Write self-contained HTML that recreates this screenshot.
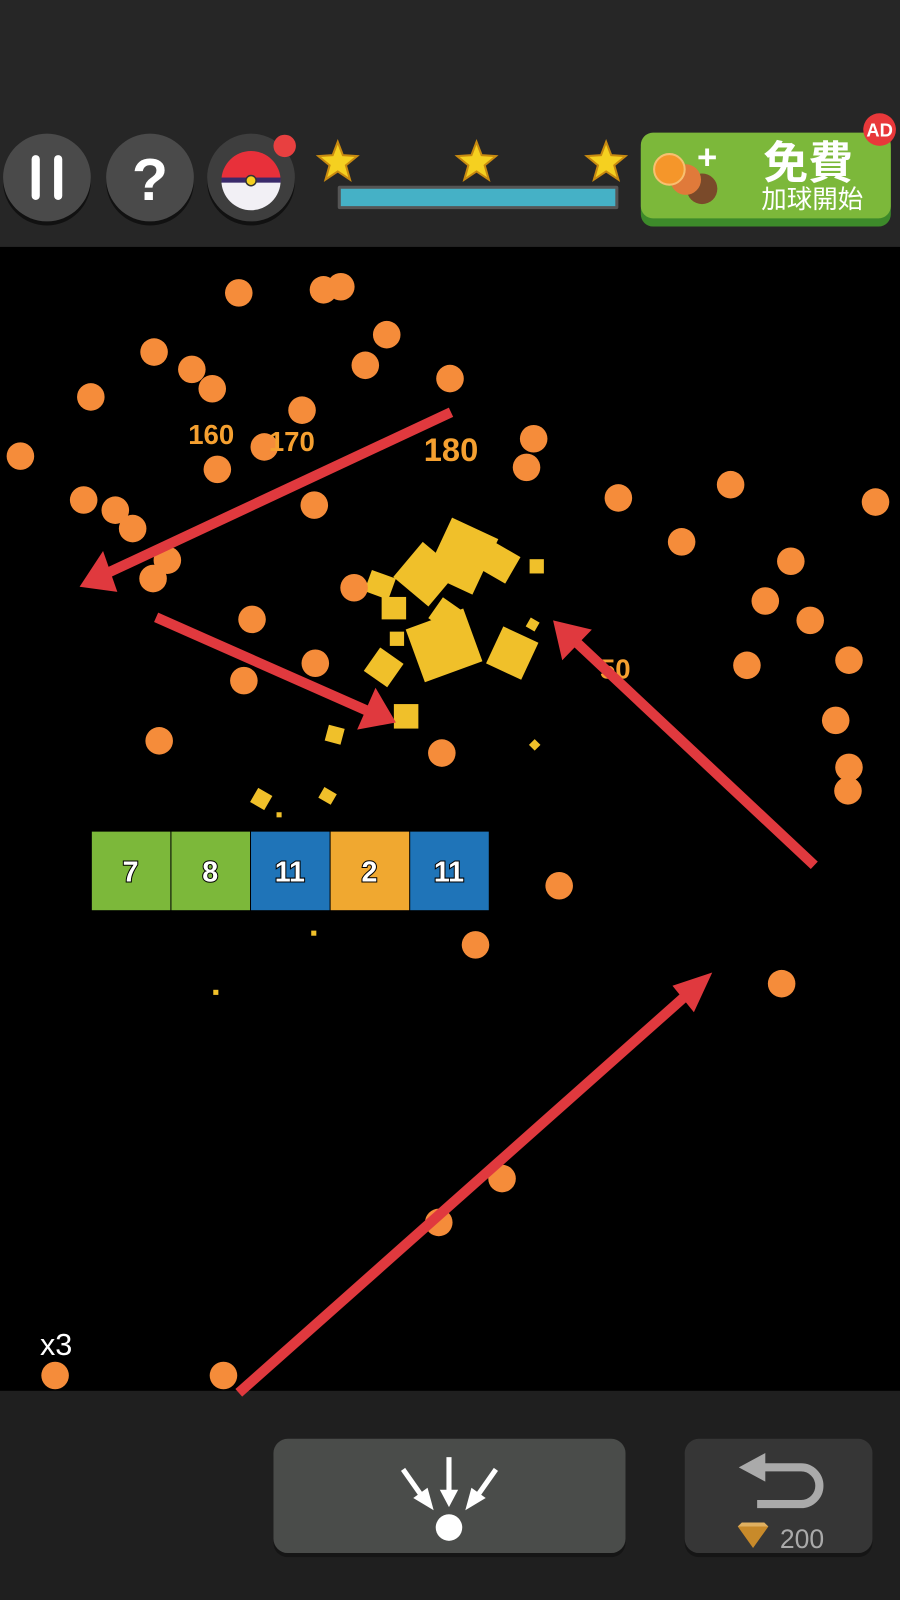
<!DOCTYPE html>
<html><head><meta charset="utf-8"><style>html,body{margin:0;padding:0;background:#000}svg{display:block}</style></head><body>
<svg width="900" height="1600" viewBox="0 0 882 1568" xmlns="http://www.w3.org/2000/svg" font-family="Liberation Sans, Noto Sans CJK TC, sans-serif">
<rect width="882" height="242" fill="#262626"/>
<rect y="242" width="882" height="1121" fill="#000"/>
<rect y="1363" width="882" height="205" fill="#1f1f1f"/>
<!-- top buttons -->
<circle cx="46" cy="178" r="43" fill="#111"/><circle cx="46" cy="174" r="43" fill="#4a4a4a"/>
<rect x="31" y="152" width="8" height="44" rx="4" fill="#fff"/><rect x="53" y="152" width="8" height="44" rx="4" fill="#fff"/>
<circle cx="147" cy="178" r="43" fill="#111"/><circle cx="147" cy="174" r="43" fill="#4a4a4a"/>
<text x="147" y="196" font-size="58" font-weight="bold" fill="#fff" text-anchor="middle">?</text>
<circle cx="246" cy="178" r="43" fill="#111"/><circle cx="246" cy="174" r="43" fill="#3e3e3e"/>
<path d="M217 177 A29 29 0 0 1 275 177 Z" fill="#e8303a"/>
<path d="M217 177 A29 29 0 0 0 275 177 Z" fill="#f2f0f5"/>
<rect x="217" y="174" width="58" height="5" fill="#3a2a6a"/><circle cx="246" cy="177" r="5" fill="#f5d020" stroke="#333" stroke-width="1.5"/>
<circle cx="279" cy="143" r="11" fill="#e84040"/>
<g fill="#f5d020" stroke="#c88a10" stroke-width="2">
<polygon points="331,139 336,152 350,153 339,162 343,176 331,168 319,176 323,162 312,153 326,152"/>
<polygon points="467,139 472,152 486,153 475,162 479,176 467,168 455,176 459,162 448,153 462,152"/>
<polygon points="594,139 599,152 613,153 602,162 606,176 594,168 582,176 586,162 575,153 589,152"/>
</g>
<rect x="331" y="182" width="275" height="23" rx="2" fill="#555"/><rect x="334" y="185" width="269" height="17" fill="#45b1c6"/>
<rect x="628" y="134" width="245" height="88" rx="12" fill="#3d8a2a"/><rect x="628" y="130" width="245" height="84" rx="12" fill="#7cb83a"/>
<circle cx="688" cy="185" r="15" fill="#7a4a2a"/><circle cx="672" cy="176" r="15" fill="#e07a3a"/><circle cx="656" cy="166" r="15" fill="#f5962a" stroke="#f8c070" stroke-width="2"/>
<text x="693" y="165" font-size="34" fill="#fff" text-anchor="middle" font-weight="bold">+</text>
<text x="792" y="175" font-size="44" fill="#fff" font-weight="bold" text-anchor="middle">免費</text>
<text x="796" y="204" font-size="25" fill="#fff" text-anchor="middle">加球開始</text>
<circle cx="862" cy="127" r="16" fill="#e8383a"/><text x="862" y="134" font-size="18" font-weight="bold" fill="#fff" text-anchor="middle">AD</text>
<!-- yellow debris -->
<g fill="#f0c02a">
<rect x="395" y="540" width="45" height="45" transform="rotate(40 417 562)"/>
<rect x="428" y="515" width="50" height="60" transform="rotate(25 453 545)"/>
<rect x="470" y="535" width="35" height="30" transform="rotate(30 487 550)"/>
<rect x="360" y="562" width="25" height="22" transform="rotate(20 372 573)"/>
<rect x="374" y="585" width="24" height="22"/>
<rect x="405" y="605" width="60" height="55" transform="rotate(-20 435 632)"/>
<rect x="425" y="590" width="25" height="25" transform="rotate(35 437 602)"/>
<rect x="483" y="620" width="38" height="40" transform="rotate(25 502 640)"/>
<rect x="362" y="640" width="28" height="28" transform="rotate(35 376 654)"/>
<rect x="386" y="690" width="24" height="24"/>
<rect x="519" y="548" width="14" height="14"/>
<rect x="320" y="712" width="16" height="16" transform="rotate(15 328 720)"/>
<rect x="248" y="775" width="16" height="16" transform="rotate(30 256 783)"/>
<rect x="314" y="774" width="14" height="12" transform="rotate(30 321 780)"/>
<rect x="382" y="619" width="14" height="14"/>
<rect x="517" y="607" width="10" height="10" transform="rotate(30 522 612)"/>
<rect x="520" y="726" width="8" height="8" transform="rotate(45 524 730)"/>
<rect x="266" y="877" width="8" height="8"/><rect x="305" y="912" width="5" height="5"/><rect x="209" y="970" width="5" height="5"/><rect x="448" y="820" width="6" height="6"/><rect x="271" y="796" width="5" height="5"/>
</g>
<!-- balls -->
<g fill="#f58c3a">
<circle cx="234" cy="287" r="13.5"/><circle cx="317" cy="284" r="13.5"/><circle cx="334" cy="281" r="13.5"/><circle cx="379" cy="328" r="13.5"/><circle cx="151" cy="345" r="13.5"/><circle cx="188" cy="362" r="13.5"/><circle cx="208" cy="381" r="13.5"/><circle cx="358" cy="358" r="13.5"/><circle cx="441" cy="371" r="13.5"/><circle cx="89" cy="389" r="13.5"/><circle cx="296" cy="402" r="13.5"/><circle cx="20" cy="447" r="13.5"/><circle cx="259" cy="438" r="13.5"/><circle cx="213" cy="460" r="13.5"/><circle cx="523" cy="430" r="13.5"/><circle cx="516" cy="458" r="13.5"/><circle cx="82" cy="490" r="13.5"/><circle cx="113" cy="500" r="13.5"/><circle cx="130" cy="518" r="13.5"/><circle cx="308" cy="495" r="13.5"/><circle cx="606" cy="488" r="13.5"/><circle cx="716" cy="475" r="13.5"/><circle cx="858" cy="492" r="13.5"/><circle cx="668" cy="531" r="13.5"/><circle cx="164" cy="549" r="13.5"/><circle cx="150" cy="567" r="13.5"/><circle cx="347" cy="576" r="13.5"/><circle cx="775" cy="550" r="13.5"/><circle cx="750" cy="589" r="13.5"/><circle cx="247" cy="607" r="13.5"/><circle cx="794" cy="608" r="13.5"/><circle cx="832" cy="647" r="13.5"/><circle cx="732" cy="652" r="13.5"/><circle cx="309" cy="650" r="13.5"/><circle cx="239" cy="667" r="13.5"/><circle cx="819" cy="706" r="13.5"/><circle cx="156" cy="726" r="13.5"/><circle cx="433" cy="738" r="13.5"/><circle cx="832" cy="752" r="13.5"/><circle cx="831" cy="775" r="13.5"/><circle cx="548" cy="868" r="13.5"/><circle cx="466" cy="926" r="13.5"/><circle cx="766" cy="964" r="13.5"/><circle cx="492" cy="1155" r="13.5"/><circle cx="430" cy="1198" r="13.5"/><circle cx="54" cy="1348" r="13.5"/><circle cx="219" cy="1348" r="13.5"/>
</g>
<g font-weight="bold" fill="#f5a030" font-size="27" text-anchor="middle">
<text x="207" y="435">160</text><text x="286" y="442">170</text><text x="442" y="452" font-size="32">180</text><text x="603" y="665">50</text>
</g>
<!-- blocks -->
<rect x="90" y="815" width="77" height="77" fill="#7cb83a"/><rect x="168" y="815" width="77" height="77" fill="#7cb83a"/><rect x="246" y="815" width="77" height="77" fill="#1f74b8"/><rect x="324" y="815" width="77" height="77" fill="#f0a830"/><rect x="402" y="815" width="77" height="77" fill="#1f74b8"/>
<g font-weight="bold" font-size="28" fill="#fff" stroke="#000" stroke-width="2" paint-order="stroke" text-anchor="middle">
<text x="128" y="864">7</text><text x="206" y="864">8</text><text x="284" y="864">11</text><text x="362" y="864">2</text><text x="440" y="864">11</text>
</g>
<!-- arrows -->
<g stroke="#e0393e" stroke-width="10" fill="#e0393e">
<line x1="442" y1="404" x2="100" y2="564"/><polygon stroke="none" points="78,575 115,580 101,540"/>
<line x1="153" y1="605" x2="370" y2="701"/><polygon stroke="none" points="388,708 350,715 368,674"/>
<line x1="798" y1="848" x2="558" y2="623"/><polygon stroke="none" points="542,608 580,617 551,647"/>
<line x1="234" y1="1365" x2="682" y2="967"/><polygon stroke="none" points="698,953 680,992 659,966"/>
</g>
<text x="55" y="1328" font-size="30" fill="#fff" text-anchor="middle">x3</text>
<!-- bottom buttons -->
<rect x="268" y="1414" width="345" height="112" rx="14" fill="#151515"/>
<rect x="268" y="1410" width="345" height="112" rx="14" fill="#4a4c4a"/>
<g stroke="#fff" stroke-width="5" fill="#fff">
<line x1="440" y1="1428" x2="440" y2="1462"/><polygon stroke="none" points="431,1460 449,1460 440,1477"/>
<line x1="395" y1="1440" x2="414" y2="1467"/><polygon stroke="none" points="405,1468 419,1458 425,1480"/>
<line x1="486" y1="1440" x2="467" y2="1467"/><polygon stroke="none" points="476,1468 462,1458 456,1480"/>
</g>
<circle cx="440" cy="1497" r="13" fill="#fff"/>
<rect x="671" y="1414" width="184" height="112" rx="14" fill="#151515"/>
<rect x="671" y="1410" width="184" height="112" rx="14" fill="#363636"/>
<path d="M745 1438 H785 A18 18 0 0 1 785 1474 H742" stroke="#aaa" stroke-width="8" fill="none"/>
<polygon points="724,1438 750,1424 750,1452" fill="#aaa"/>
<polygon points="723,1496 753,1496 738,1517" fill="#c88a2a"/><polygon points="727,1492 749,1492 753,1496 723,1496" fill="#e0b060"/>
<text x="786" y="1517" font-size="26" fill="#aaa" text-anchor="middle">200</text>
</svg>
</body></html>
